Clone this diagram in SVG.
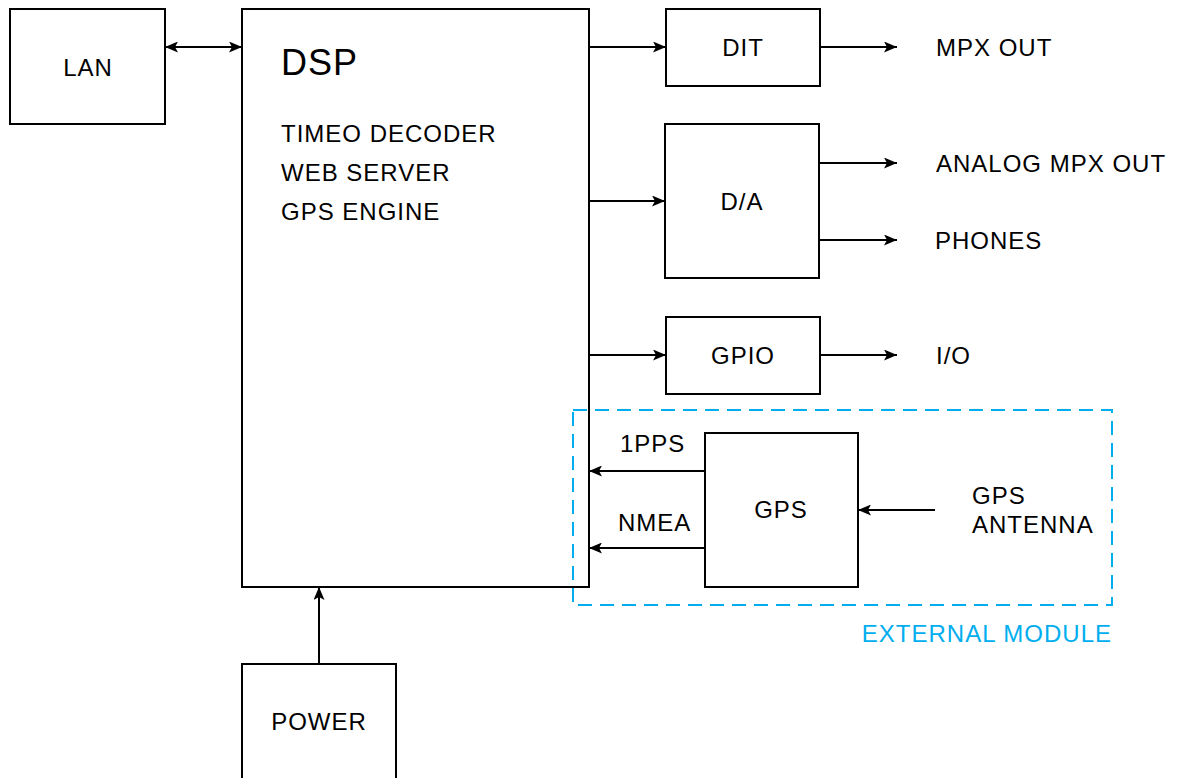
<svg xmlns="http://www.w3.org/2000/svg" width="1177" height="778" viewBox="0 0 1177 778">
<style>
.box{fill:#fff;stroke:#000;stroke-width:2}
.t{font-family:"Liberation Sans",Arial,sans-serif;font-size:24px;letter-spacing:1px;fill:#000}
.c{text-anchor:middle}
.ln{stroke:#000;stroke-width:2;fill:none}
.blue{fill:#00aeef}
</style>
<defs>
<marker id="ah" viewBox="0 0 13 11" refX="13" refY="5.5" markerWidth="13" markerHeight="11" markerUnits="userSpaceOnUse" orient="auto-start-reverse">
<path d="M0,0 L13,5.5 L0,11 L3,5.5 Z" fill="#000"/>
</marker>
</defs>
<rect width="1177" height="778" fill="#fff"/>
<g id="lan"><rect class="box" x="10" y="9" width="155" height="115"/><text class="t c" x="88" y="76">LAN</text></g>
<g id="dsp"><rect class="box" x="242" y="9" width="347" height="578"/>
<text class="t" x="281" y="75" style="font-size:36px">DSP</text>
<text class="t" x="281" y="142">TIMEO DECODER</text>
<text class="t" x="281" y="181">WEB SERVER</text>
<text class="t" x="281" y="220">GPS ENGINE</text></g>
<g id="dit"><rect class="box" x="666" y="9" width="154" height="77"/><text class="t c" x="743" y="56">DIT</text></g>
<g id="da"><rect class="box" x="665" y="124" width="154" height="154"/><text class="t c" x="742" y="210">D/A</text></g>
<g id="gpio"><rect class="box" x="666" y="317" width="154" height="77"/><text class="t c" x="743" y="364">GPIO</text></g>
<g id="gps"><rect class="box" x="705" y="433" width="153" height="154"/><text class="t c" x="781" y="518">GPS</text></g>
<g id="power"><rect class="box" x="242" y="664" width="154" height="130"/><text class="t c" x="319" y="730">POWER</text></g>
<g id="external-module">
<rect x="573" y="410" width="539" height="195" fill="none" stroke="#00aeef" stroke-width="2" stroke-dasharray="14,8"/>
<text class="t blue" x="1112" y="642" text-anchor="end">EXTERNAL MODULE</text>
</g>
<g id="labels">
<text class="t" x="936" y="56">MPX OUT</text>
<text class="t" x="936" y="172">ANALOG MPX OUT</text>
<text class="t" x="935" y="249">PHONES</text>
<text class="t" x="936" y="364">I/O</text>
<text class="t" x="620" y="452">1PPS</text>
<text class="t" x="618" y="531">NMEA</text>
<text class="t" x="972" y="504">GPS</text>
<text class="t" x="972" y="533">ANTENNA</text>
</g>
<g id="connectors">
<line class="ln" x1="165" y1="47" x2="242" y2="47" marker-start="url(#ah)" marker-end="url(#ah)"/>
<line class="ln" x1="589" y1="47" x2="666" y2="47" marker-end="url(#ah)"/>
<line class="ln" x1="820" y1="47" x2="897" y2="47" marker-end="url(#ah)"/>
<line class="ln" x1="589" y1="201" x2="665" y2="201" marker-end="url(#ah)"/>
<line class="ln" x1="819" y1="163" x2="897" y2="163" marker-end="url(#ah)"/>
<line class="ln" x1="819" y1="240" x2="897" y2="240" marker-end="url(#ah)"/>
<line class="ln" x1="589" y1="355" x2="666" y2="355" marker-end="url(#ah)"/>
<line class="ln" x1="820" y1="355" x2="897" y2="355" marker-end="url(#ah)"/>
<line class="ln" x1="705" y1="471" x2="589" y2="471" marker-end="url(#ah)"/>
<line class="ln" x1="705" y1="548" x2="589" y2="548" marker-end="url(#ah)"/>
<line class="ln" x1="935" y1="510" x2="858" y2="510" marker-end="url(#ah)"/>
<line class="ln" x1="319" y1="664" x2="319" y2="587" marker-end="url(#ah)"/>
</g>
</svg>
